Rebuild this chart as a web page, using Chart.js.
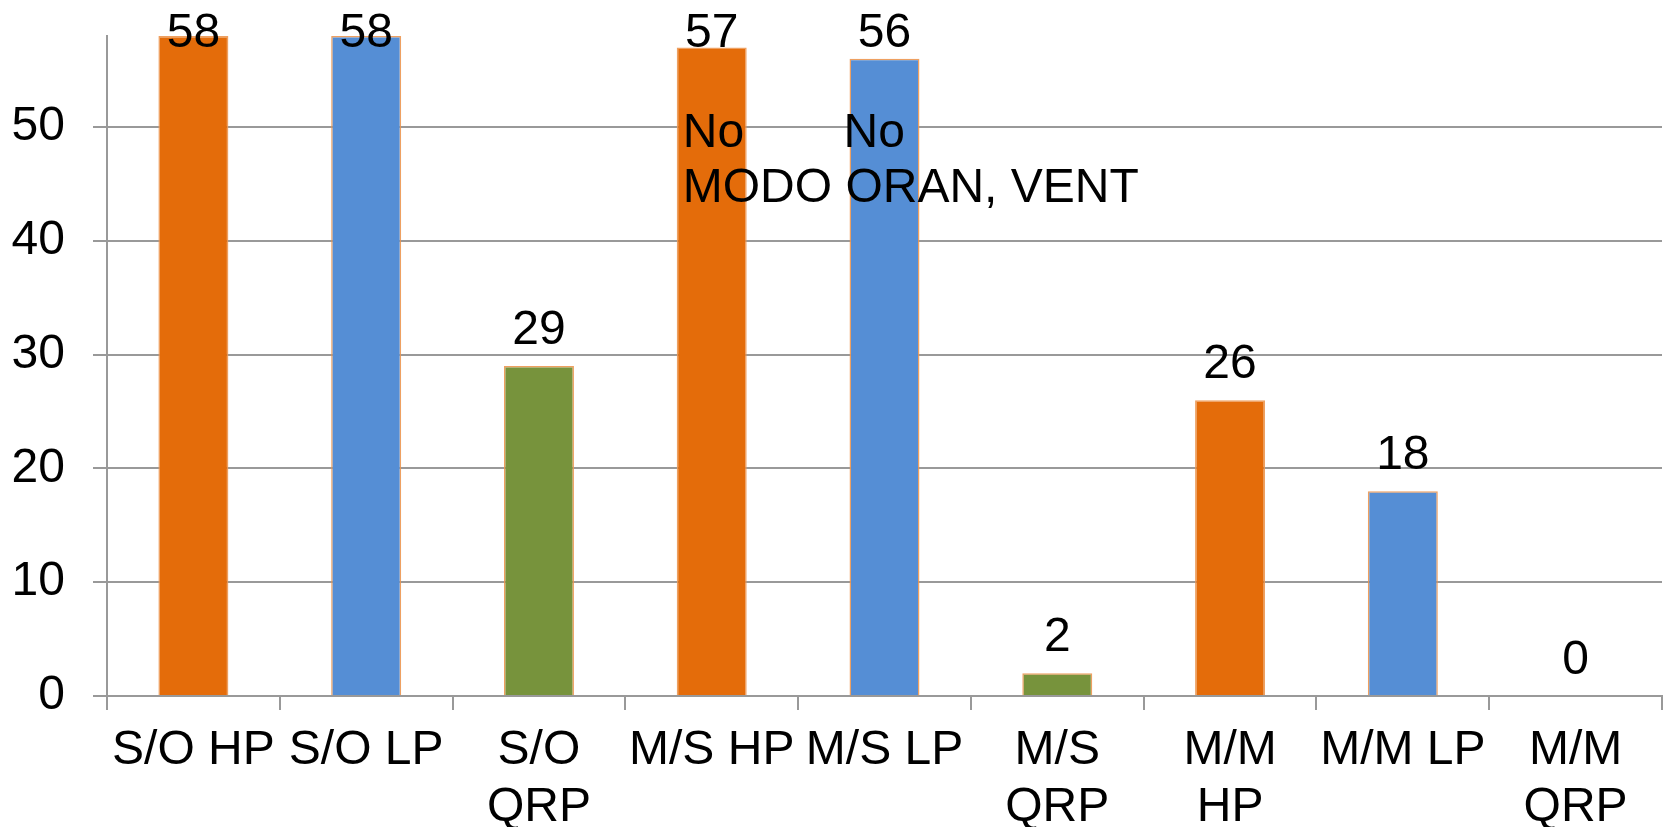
<!DOCTYPE html>
<html>
<head>
<meta charset="utf-8">
<script src="https://cdn.jsdelivr.net/npm/chart.js@4"></script>
<style>
    html, body { margin: 0; padding: 0; background: #fff; }
    #wrap { width: 1670px; height: 827px; }
</style>
</head>
<body>
<div id="wrap"><canvas id="chart"></canvas></div>
<script>
const categories = [
    'S/O HP', 'S/O LP', ['S/O', 'QRP'], 'M/S HP', 'M/S LP',
    ['M/S', 'QRP'], ['M/M', 'HP'], 'M/M LP', ['M/M', 'QRP']
];
const values = [58, 58, 29, 57, 56, 2, 26, 18, 0];
const barColors = [
    '#E46C0A', '#558ED5', '#77933C', '#E46C0A', '#558ED5',
    '#77933C', '#E46C0A', '#558ED5', '#77933C'
];
const yTicks = [0, 10, 20, 30, 40, 50];
const yMax = 58;

// free text labels sitting over the M/S bars
const notes = [
    { bar: 3, text: 'No', line: 0, dx: 6 },
    { bar: 4, text: 'No', line: 0, dx: -6 },
    { bar: 3, text: 'MODO ORAN, VENT', line: 1, dx: 6 }
];

const FONT = '"Liberation Sans", Arial, sans-serif';

// value labels above each bar + the notes
const valueLabels = {
    id: 'valueLabels',
    afterDatasetsDraw(chart) {
        const ctx = chart.ctx;
        const meta = chart.getDatasetMeta(0);
        ctx.save();
        ctx.font = '48px ' + FONT;
        ctx.fillStyle = '#000';
        ctx.textAlign = 'center';
        ctx.textBaseline = 'alphabetic';
        meta.data.forEach((bar, i) => {
            const y = Math.max(bar.y - 22, chart.chartArea.top + 11);
            ctx.fillText(String(values[i]), bar.x, y);
        });

        ctx.textAlign = 'left';
        const base = chart.scales.y.getPixelForValue(50) + 20;
        notes.forEach(n => {
            const bar = meta.data[n.bar];
            const left = bar.x - bar.width / 2;
            ctx.fillText(n.text, left + n.dx, base + n.line * 55);
        });
        ctx.restore();
    }
};

new Chart(document.getElementById('chart'), {
    type: 'bar',
    data: {
        labels: categories,
        datasets: [{
            data: values,
            backgroundColor: barColors,
            borderColor: 'rgba(236,150,80,0.9)',
            borderWidth: 1.5,
            barPercentage: 0.405,
            categoryPercentage: 1
        }]
    },
    options: {
        responsive: true,
        maintainAspectRatio: false,
        animation: false,
        layout: { padding: { left: 0, top: 36, right: 8, bottom: 0 } },
        plugins: {
            legend: { display: false },
            tooltip: { enabled: false }
        },
        scales: {
            x: {
                grid: {
                    display: true,
                    drawOnChartArea: false,
                    drawTicks: true,
                    tickLength: 14,
                    color: '#999',
                    lineWidth: 2,
                    offset: true
                },
                border: { display: true, color: '#999', width: 2 },
                ticks: {
                    color: '#000',
                    font: { family: FONT, size: 48, lineHeight: 1.19 },
                    padding: 12,
                    maxRotation: 0,
                    autoSkip: false
                },
                afterFit(scale) {
                    scale.height = 131;
                    scale.paddingLeft = 0;
                    scale.paddingRight = 0;
                }
            },
            y: {
                min: 0,
                max: yMax,
                afterBuildTicks(scale) {
                    scale.ticks = yTicks.map(v => ({ value: v }));
                },
                grid: {
                    color: '#999',
                    lineWidth: 2,
                    tickLength: 14
                },
                border: { display: true, color: '#999', width: 2 },
                ticks: {
                    color: '#000',
                    font: { family: FONT, size: 48 },
                    padding: 28
                },
                afterFit(scale) {
                    scale.width = 107;
                    scale.paddingTop = 0;
                    scale.paddingBottom = 0;
                }
            }
        }
    },
    plugins: [valueLabels]
});
</script>
</body>
</html>
